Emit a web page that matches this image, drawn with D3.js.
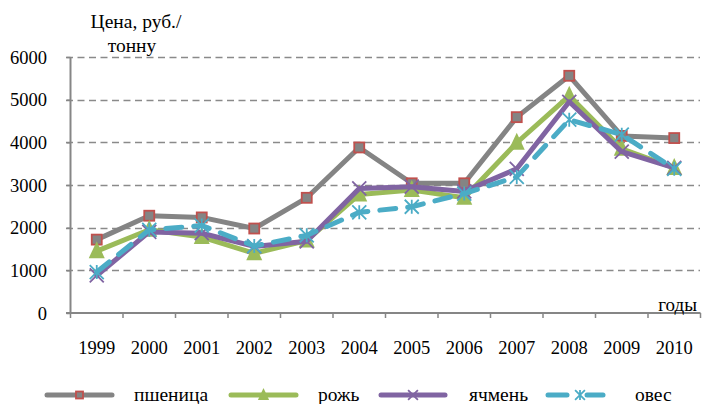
<!DOCTYPE html>
<html>
<head>
<meta charset="utf-8">
<script src="https://cdn.jsdelivr.net/npm/d3@7"></script>
<style>
	body { margin: 0; background: #fff; }
	svg text { font-family: 'Liberation Serif', 'DejaVu Serif', serif !important; fill: #000; }
</style>
</head>
<body>
<div class="js-graph"></div>
<script>
var years = ['1999', '2000', '2001', '2002', '2003', '2004', '2005', '2006', '2007', '2008', '2009', '2010'];
var wheat = [1720, 2280, 2240, 1980, 2700, 3880, 3040, 3040, 4590, 5560, 4150, 4100];
var rye = [1450, 1950, 1780, 1400, 1700, 2780, 2880, 2700, 3990, 5090, 3850, 3400];
var barley = [880, 1900, 1870, 1560, 1680, 2920, 2960, 2850, 3380, 4950, 3780, 3400];
var oats = [960, 1950, 2050, 1570, 1820, 2360, 2490, 2800, 3190, 4530, 4180, 3380];
var yTicks = [0, 1000, 2000, 3000, 4000, 5000, 6000];
var seriesNames = ['пшеница', 'рожь', 'ячмень', 'овес'];

(function(d3) {
	var w = 703, h = 404;
	var svg = d3.select('.js-graph').append('svg').attr('width', w).attr('height', h);

	var x = d3.scaleBand().domain(years).range([70.5, 700.5]);
	var y = d3.scaleLinear().domain([0, 6000]).range([313, 57]);

	var series = [
		{ name: seriesNames[0], values: wheat, color: '#848484', marker: 'square', dash: null },
		{ name: seriesNames[1], values: rye, color: '#9bbb59', marker: 'triangle', dash: null },
		{ name: seriesNames[2], values: barley, color: '#8064a2', marker: 'x', dash: null },
		{ name: seriesNames[3], values: oats, color: '#4bacc6', marker: 'star', dash: '16,12' }
	];

	// grid
	svg.append('g')
		.selectAll('line')
		.data(yTicks.slice(1))
		.enter()
		.append('line')
		.attr('x1', 66)
		.attr('x2', 700)
		.attr('y1', function(d) { return Math.round(y(d)) + 0.5; })
		.attr('y2', function(d) { return Math.round(y(d)) + 0.5; })
		.style('stroke', '#8a8a8a')
		.style('stroke-width', 1.6)
		.style('stroke-dasharray', '7,4.5');

	// y axis
	var yAxis = d3.axisLeft(y).tickValues(yTicks).tickSize(4).tickPadding(19.5).tickFormat(d3.format('d'));
	var gy = svg.append('g').attr('transform', 'translate(70.5,0)').call(yAxis);
	gy.attr('font-family', null).attr('font-size', null);
	gy.select('.domain').remove();
	gy.append('line').attr('x1', 0).attr('x2', 0).attr('y1', 57).attr('y2', 313).style('stroke', '#868686').style('stroke-width', 2);
	gy.selectAll('.tick line').style('stroke', '#868686').style('stroke-width', 1.5);
	gy.selectAll('.tick text').attr('dy', null).attr('y', 6).style('font-size', '18.5px');

	// x axis
	var xAxis = d3.axisBottom(x).tickSize(0).tickPadding(41);
	var gx = svg.append('g').attr('transform', 'translate(0,313)').call(xAxis);
	gx.attr('font-family', null).attr('font-size', null);
	gx.select('.domain').remove();
	gx.append('line').attr('x1', 66).attr('x2', 700.5).attr('y1', 0).attr('y2', 0).style('stroke', '#868686').style('stroke-width', 2);
	gx.selectAll('.xt')
		.data(years.concat(['end']))
		.enter()
		.append('line')
		.attr('x1', function(d, i) { return 70.5 + i * x.step(); })
		.attr('x2', function(d, i) { return 70.5 + i * x.step(); })
		.attr('y1', 0).attr('y2', 5)
		.style('stroke', '#868686').style('stroke-width', 1.5);
	gx.selectAll('.tick text').attr('dy', null).style('font-size', '18.5px');

	// titles
	svg.append('text').attr('x', 136).attr('y', 28).attr('text-anchor', 'middle').style('font-size', '19.5px').text('Цена, руб./');
	svg.append('text').attr('x', 132).attr('y', 52).attr('text-anchor', 'middle').style('font-size', '19.5px').text('тонну');
	svg.append('text').attr('x', 697).attr('y', 311).attr('text-anchor', 'end').style('font-size', '19px').text('годы');

	var line = d3.line()
		.x(function(d, i) { return x(years[i]) + x.bandwidth() / 2; })
		.y(function(d) { return y(d); });

	function drawMarker(g, type, color, px, py, s) {
		var k = s || 1;
		if (type === 'square') {
			var a = 5 * k;
			g.append('rect').attr('x', px - a).attr('y', py - a).attr('width', 2 * a).attr('height', 2 * a)
				.style('fill', '#848484').style('stroke', '#c0504d').style('stroke-width', 1.8);
		} else if (type === 'triangle') {
			g.append('path').attr('d', 'M' + px + ',' + (py - 10 * k) + 'L' + (px + 8 * k) + ',' + (py + 7 * k) + 'L' + (px - 8 * k) + ',' + (py + 7 * k) + 'Z')
				.style('fill', color);
		} else if (type === 'x') {
			var r = 7 * k;
			g.append('path').attr('d', 'M' + (px - r) + ',' + (py - r) + 'L' + (px + r) + ',' + (py + r) + 'M' + (px + r) + ',' + (py - r) + 'L' + (px - r) + ',' + (py + r))
				.style('stroke', color).style('stroke-width', 1.8);
		} else {
			var q = 7 * k;
			g.append('path').attr('d', 'M' + (px - q) + ',' + (py - q) + 'L' + (px + q) + ',' + (py + q) + 'M' + (px + q) + ',' + (py - q) + 'L' + (px - q) + ',' + (py + q) + 'M' + px + ',' + (py - q) + 'L' + px + ',' + (py + q))
				.style('stroke', color).style('stroke-width', 1.8);
		}
	}

	series.forEach(function(s) {
		var g = svg.append('g');
		g.append('path')
			.datum(s.values)
			.attr('d', line)
			.style('fill', 'none')
			.style('stroke', s.color)
			.style('stroke-width', 5)
			.style('stroke-linecap', 'round')
			.style('stroke-linejoin', 'round')
			.style('stroke-dasharray', s.dash);
		s.values.forEach(function(v, i) {
			drawMarker(g, s.marker, s.color, x(years[i]) + x.bandwidth() / 2, y(v));
		});
	});

	// legend
	var legendPos = [
		{ x1: 45, x2: 114, tx: 134 },
		{ x1: 229, x2: 298, tx: 318 },
		{ x1: 379, x2: 447, tx: 469 },
		{ x1: 546, x2: 605, tx: 635 }
	];
	series.forEach(function(s, i) {
		var p = legendPos[i], ly = 395;
		var g = svg.append('g');
		var mx = (p.x1 + p.x2) / 2;
		if (s.dash) {
			mx = 580;
			g.append('line').attr('x1', p.x1 + 2).attr('x2', 567).attr('y1', ly).attr('y2', ly)
				.style('stroke', s.color).style('stroke-width', 5).style('stroke-linecap', 'round');
			g.append('line').attr('x1', 587).attr('x2', p.x2 - 2).attr('y1', ly).attr('y2', ly)
				.style('stroke', s.color).style('stroke-width', 5).style('stroke-linecap', 'round');
		} else {
			g.append('line').attr('x1', p.x1 + 2).attr('x2', p.x2 - 2).attr('y1', ly).attr('y2', ly)
				.style('stroke', s.color).style('stroke-width', 5).style('stroke-linecap', 'round');
		}
		drawMarker(g, s.marker, s.color, mx, ly, 0.7);
		g.append('text').attr('x', p.tx).attr('y', 401).style('font-size', '19.5px').text(s.name);
	});
})(d3);
</script>
</body>
</html>
